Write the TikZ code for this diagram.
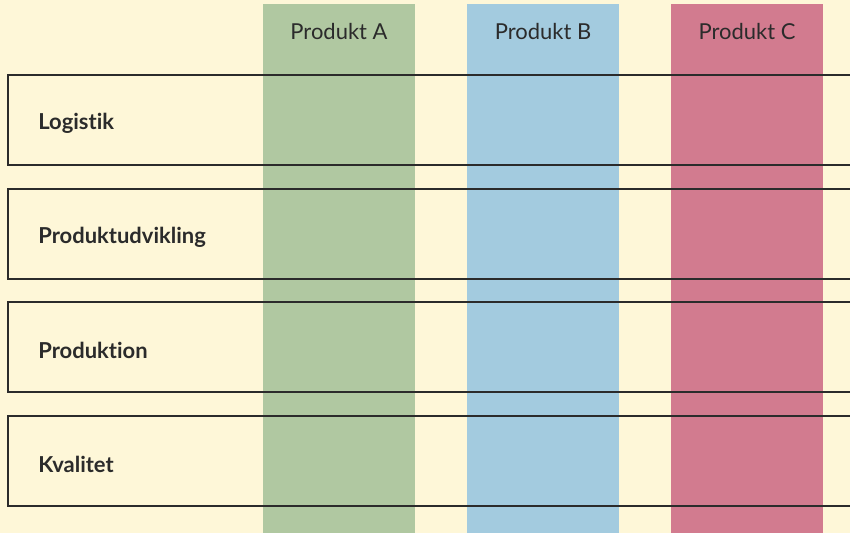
\documentclass[tikz,border=0pt]{standalone}
\usepackage{fontspec}
\setmainfont[Ligatures=NoCommon]{Lato}
\usetikzlibrary{calc}
\usetikzlibrary{positioning}

\definecolor{bgcream}{HTML}{FEF7D8}
\definecolor{prodgreen}{HTML}{B0C8A1}
\definecolor{prodblue}{HTML}{A3CBDF}
\definecolor{prodpink}{HTML}{D27B8F}
\definecolor{inkgray}{HTML}{2B2B2B}

\tikzset{
	rowbox/.style={rectangle, draw=inkgray, line width=1pt, anchor=north west, minimum width=17.1cm, minimum height=1.8cm, inner sep=0pt},
	rowlabel/.style={anchor=west, text=inkgray, font=\fontsize{12.5}{14}\selectfont\bfseries, inner sep=0pt},
	headlabel/.style={text=inkgray, font=\fontsize{12.5}{14}\selectfont, inner sep=0pt}
}

\begin{document}
\begin{tikzpicture}[x=0.02cm, y=-0.02cm]

		\def \xmax{850};
		\def \ymax{533};
		\def \colw{152};

		\useasboundingbox (0,0) rectangle (\xmax,\ymax);
		\fill[bgcream] (0,0) rectangle (\xmax,\ymax);

		% product columns
		\fill[prodgreen] (263,4) rectangle ++(\colw,\ymax);
		\fill[prodblue] (467,4) rectangle ++(\colw,\ymax);
		\fill[prodpink] (671,4) rectangle ++(\colw,\ymax);

		\node[headlabel] (prodA) at (339,32) {Produkt A};
		\node[headlabel] (prodB) at (543,32) {Produkt B};
		\node[headlabel] (prodC) at (747,32) {Produkt C};

		% rows
		\node[rowbox] (logistik) at (7,74) {};
		\node[rowbox] (udvikling) at (7,188) {};
		\node[rowbox] (produktion) at (7,301) {};
		\node[rowbox] (kvalitet) at (7,415) {};

		\node[rowlabel] (logistikTxt) at ($(logistik.west)+(31,3.5)$) {Logistik};
		\node[rowlabel] (udviklingTxt) at ($(udvikling.west)+(31,3.5)$) {Produktudvikling};
		\node[rowlabel] (produktionTxt) at ($(produktion.west)+(31,3.5)$) {Produktion};
		\node[rowlabel] (kvalitetTxt) at ($(kvalitet.west)+(31,3.5)$) {Kvalitet};

\end{tikzpicture}
\end{document}
